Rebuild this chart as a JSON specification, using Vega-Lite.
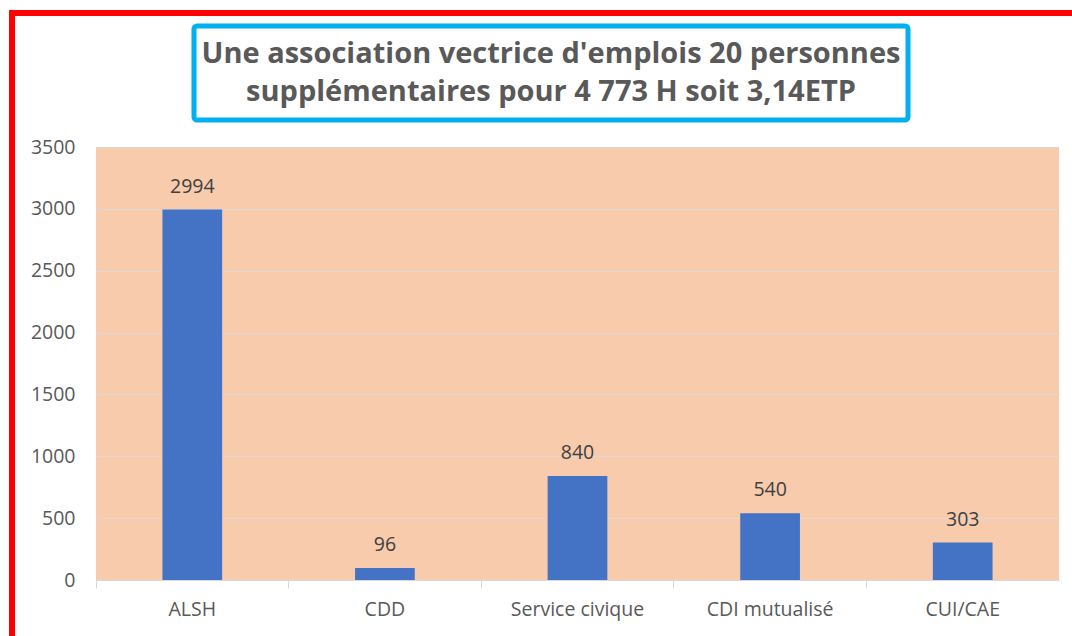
{
  "$schema": "https://vega.github.io/schema/vega-lite/v6.json",
  "padding": {"left": 9, "top": 10, "right": 0, "bottom": 0},
  "background": "white",
  "spacing": 0,
  "config": {"font": "Open Sans", "view": {"stroke": null}},
  "hconcat": [
    {
      "width": 6,
      "height": 626,
      "view": {"fill": "#FF0000", "stroke": null},
      "data": {"values": []},
      "mark": "point"
    },
    {
      "spacing": 7,
      "vconcat": [
        {
          "width": 1057,
          "height": 6,
          "view": {"fill": "#FF0000", "stroke": null},
          "data": {"values": []},
          "mark": "point"
        },
        {
          "spacing": 0,
          "hconcat": [
            {
              "width": 176,
              "height": 104,
              "view": {"stroke": null},
              "data": {"values": []},
              "mark": "point"
            },
            {
              "width": 714,
              "height": 94,
              "view": {"stroke": "#00B0F0", "strokeWidth": 5, "cornerRadius": 3, "fill": "white"},
              "data": {"values": [
                {"line": 1, "text": "Une association vectrice d'emplois 20 personnes"},
                {"line": 2, "text": "supplémentaires pour 4 773 H soit 3,14ETP"}
              ]},
              "mark": {"type": "text", "font": "Open Sans", "fontWeight": "bold", "fontSize": 29, "color": "#595959"},
              "encoding": {
                "y": {"field": "line", "type": "ordinal", "axis": null, "scale": {"padding": 0.76}},
                "text": {"field": "text"}
              }
            }
          ]
        },
        {
          "spacing": 0,
          "hconcat": [
            {
              "width": 15,
              "height": 1,
              "view": {"stroke": null},
              "data": {"values": []},
              "mark": "point"
            },
            {
              "width": 963,
              "height": 433,
              "view": {"fill": "#F8CBAD", "stroke": null},
              "data": {"values": [
                {"poste": "ALSH", "heures": 2994},
                {"poste": "CDD", "heures": 96},
                {"poste": "Service civique", "heures": 840},
                {"poste": "CDI mutualisé", "heures": 540},
                {"poste": "CUI/CAE", "heures": 303}
              ]},
              "encoding": {
                "x": {
                  "field": "poste", "type": "nominal", "sort": null,
                  "scale": {"paddingInner": 0, "paddingOuter": 0},
                  "axis": {
                    "title": null, "labelAngle": 0, "bandPosition": 0,
                    "tickSize": 8, "tickColor": "#D9D9D9", "domainColor": "#D9D9D9",
                    "labelFontSize": 19.5, "labelColor": "#595959", "labelPadding": 12,
                    "grid": false
                  }
                },
                "y": {
                  "field": "heures", "type": "quantitative",
                  "scale": {"domain": [0, 3500]},
                  "axis": {
                    "title": null, "format": "d", "values": [0, 500, 1000, 1500, 2000, 2500, 3000, 3500],
                    "domain": false, "ticks": false, "grid": true, "gridColor": "#D9D9D9",
                    "labelFontSize": 19.5, "labelColor": "#595959", "labelPadding": 21
                  }
                }
              },
              "layer": [
                {"mark": {"type": "bar", "color": "#4472C4", "width": {"band": 0.31}}},
                {
                  "mark": {"type": "text", "baseline": "bottom", "dy": -13, "fontSize": 19.5, "color": "#404040"},
                  "encoding": {"text": {"field": "heures", "type": "quantitative", "format": "d"}}
                }
              ]
            }
          ]
        }
      ]
    }
  ]
}
